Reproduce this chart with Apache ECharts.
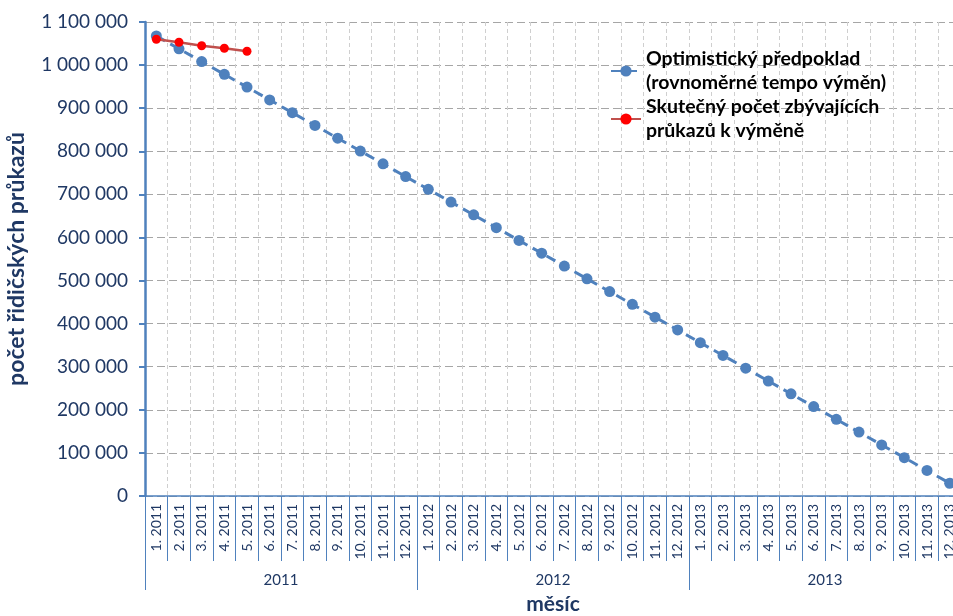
<!DOCTYPE html>
<html><head><meta charset="utf-8">
<script src="https://cdn.jsdelivr.net/npm/echarts@6/dist/echarts.min.js"></script>
<style>html,body{margin:0;padding:0;background:#fff}#c{width:953px;height:616px}</style>
</head><body><div id="c"></div>
<script>
const months = [
 '1. 2011','2. 2011','3. 2011','4. 2011','5. 2011','6. 2011','7. 2011','8. 2011','9. 2011','10. 2011','11. 2011','12. 2011',
 '1. 2012','2. 2012','3. 2012','4. 2012','5. 2012','6. 2012','7. 2012','8. 2012','9. 2012','10. 2012','11. 2012','12. 2012',
 '1. 2013','2. 2013','3. 2013','4. 2013','5. 2013','6. 2013','7. 2013','8. 2013','9. 2013','10. 2013','11. 2013','12. 2013'];
const years = ['2011','2012','2013'];
const optimistic = [1067500,1037800,1008200,978500,948900,919200,889600,859900,830300,800600,771000,741300,
 711700,682000,652400,622700,593100,563400,533700,504100,474400,444800,415100,385500,
 355800,326200,296500,266900,237200,207600,177900,148300,118600,89000,59300,29600];
const actual = [1060000,1053000,1045000,1039000,1032000];
const seriesNames = ['Optimistický předpoklad\n(rovnoměrné tempo výměn)','Skutečný počet zbývajících\nprůkazů k výměně'];
const yTicks = {min:0, max:1100000, interval:100000};

const font = 'Lato, "Open Sans", sans-serif';
const navy = '#1F3864';
const axisBlue = '#4F81BD';
const chart = echarts.init(document.getElementById('c'));
const gridBox = {left:145, width:816, top:22, height:474, containLabel:false, outerBoundsMode:'none'};
chart.setOption({
  animation:false,
  textStyle:{fontFamily:font},
  grid:[Object.assign({},gridBox), Object.assign({},gridBox)],
  legend:{
    orient:'vertical', left:605, top:30, itemWidth:30, itemHeight:14, itemGap:-24,
    textStyle:{fontFamily:font, fontSize:19.5, fontWeight:'bold', color:'#000', lineHeight:24, padding:[24,0,0,0]},
    data:seriesNames
  },
  xAxis:[{
    type:'category', gridIndex:0, data:months, position:'bottom',
    axisLine:{lineStyle:{color:axisBlue, width:1.5}},
    axisTick:{show:true, interval:0, length:65, lineStyle:{color:axisBlue, width:1}},
    axisLabel:{interval:0, rotate:90, fontSize:14, color:navy, margin:8, fontFamily:font},
    splitLine:{show:true, interval:0, lineStyle:{color:'#CFCFCF', type:[4,3], width:1}}
  },{
    type:'category', gridIndex:1, data:years, position:'bottom',
    axisLine:{show:false},
    axisTick:{show:true, interval:0, length:94, lineStyle:{color:axisBlue, width:1}},
    axisLabel:{interval:0, fontSize:15, color:navy, margin:77, fontFamily:font},
    splitLine:{show:false},
    name:'měsíc', nameLocation:'middle', nameGap:98,
    nameTextStyle:{fontFamily:font, fontSize:21, fontWeight:'bold', color:navy}
  }],
  yAxis:[{
    type:'value', gridIndex:0, min:yTicks.min, max:yTicks.max, interval:yTicks.interval,
    axisLine:{show:true, lineStyle:{color:axisBlue, width:2.5}},
    axisTick:{show:true, length:6, lineStyle:{color:axisBlue, width:2}},
    axisLabel:{fontSize:19, color:navy, margin:17, fontFamily:font,
      formatter:v=>String(v).replace(/\B(?=(\d{3})+(?!\d))/g,' ')},
    splitLine:{show:true, lineStyle:{color:'#A6A6A6', type:[8,4], width:1}},
    name:'počet řidičských průkazů', nameLocation:'middle', nameGap:117,
    nameTextStyle:{fontFamily:font, fontSize:23, fontWeight:'bold', color:navy}
  },{
    type:'value', gridIndex:1, min:0, max:1100000, show:false
  }],
  series:[{
    name:seriesNames[0], type:'line', xAxisIndex:0, yAxisIndex:0, data:optimistic,
    symbol:'circle', symbolSize:11, showSymbol:true,
    lineStyle:{color:axisBlue, width:3, type:[10,6]},
    itemStyle:{color:axisBlue}, z:2
  },{
    name:seriesNames[1], type:'line', xAxisIndex:0, yAxisIndex:0, data:actual,
    symbol:'circle', symbolSize:9, showSymbol:true,
    lineStyle:{color:'#C0504D', width:2.5},
    itemStyle:{color:'#FF0000'}, z:3
  }]
});
</script></body></html>
